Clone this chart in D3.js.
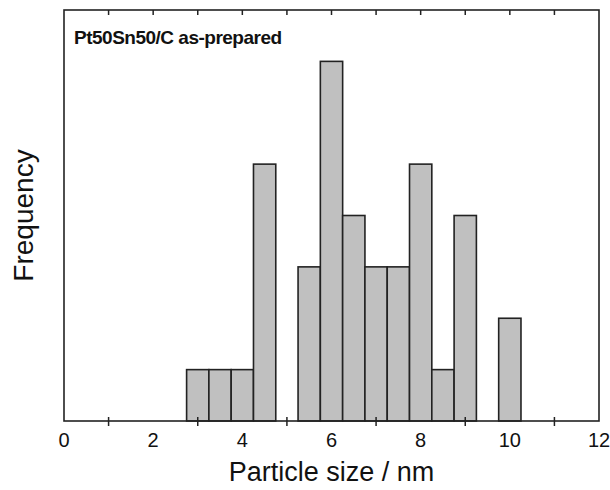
<!DOCTYPE html>
<html><head><meta charset="utf-8">
<script src="https://cdn.jsdelivr.net/npm/d3@7"></script>
<style>body{margin:0;background:#fff}svg{display:block}text{font-family:"Liberation Sans",Arial,sans-serif;fill:#111}</style>
</head><body>
<svg id="c" width="610" height="490"></svg>
<script>
const binCenters = [3, 3.5, 4, 4.5, 5.5, 6, 6.5, 7, 7.5, 8, 8.5, 9, 10];
const counts     = [1, 1, 1, 5, 3, 7, 4, 3, 3, 5, 1, 4, 2];
const binWidth = 0.5;
const xTickLabels = [0, 2, 4, 6, 8, 10, 12];
const xBottomTicks = [1, 3, 5, 7, 9, 11];
const xTopTicks = [1,2,3,4,5,6,7,8,9,10,11];
const title = "Pt50Sn50/C as-prepared";
const xTitle = "Particle size / nm";
const yTitle = "Frequency";

const L = 64, R = 599, T = 10, B = 421;
const svg = d3.select("#c");
const x = d3.scaleLinear().domain([0, 12]).range([L, R]);
const y = d3.scaleLinear().domain([0, 8]).range([B, T]);

// bars
svg.append("g").selectAll("rect").data(binCenters).join("rect")
  .attr("x", d => x(d - binWidth/2))
  .attr("width", d => x(d + binWidth/2) - x(d - binWidth/2))
  .attr("y", (d,i) => y(counts[i]))
  .attr("height", (d,i) => y(0) - y(counts[i]))
  .attr("fill", "#c0c0c0").attr("stroke", "#222").attr("stroke-width", 1.6);

// frame
svg.append("rect").attr("x", L).attr("y", T).attr("width", R-L).attr("height", B-T)
  .attr("fill", "none").attr("stroke", "#222").attr("stroke-width", 1.6);

// bottom axis ticks (crossing)
svg.append("g").selectAll("line").data(xBottomTicks).join("line")
  .attr("x1", d => x(d)).attr("x2", d => x(d))
  .attr("y1", B - 4).attr("y2", B + 5)
  .attr("stroke", "#222").attr("stroke-width", 1.5);
// top ticks inward
svg.append("g").selectAll("line").data(xTopTicks).join("line")
  .attr("x1", d => x(d)).attr("x2", d => x(d))
  .attr("y1", T).attr("y2", T + 5)
  .attr("stroke", "#222").attr("stroke-width", 1.5);

// tick labels
svg.append("g").selectAll("text").data(xTickLabels).join("text")
  .attr("x", d => x(d)).attr("y", 447)
  .attr("text-anchor", "middle").attr("font-size", 20)
  .text(d => d);

svg.append("text").attr("x", (L+R)/2).attr("y", 481)
  .attr("text-anchor", "middle").attr("font-size", 27).text(xTitle);

svg.append("text").attr("transform", `translate(33,${(T+B)/2}) rotate(-90)`)
  .attr("text-anchor", "middle").attr("font-size", 28).text(yTitle);

svg.append("text").attr("x", 74).attr("y", 44)
  .attr("font-size", 19).attr("font-weight", "bold")
  .attr("letter-spacing", -0.5).text(title);
</script>
</body></html>
